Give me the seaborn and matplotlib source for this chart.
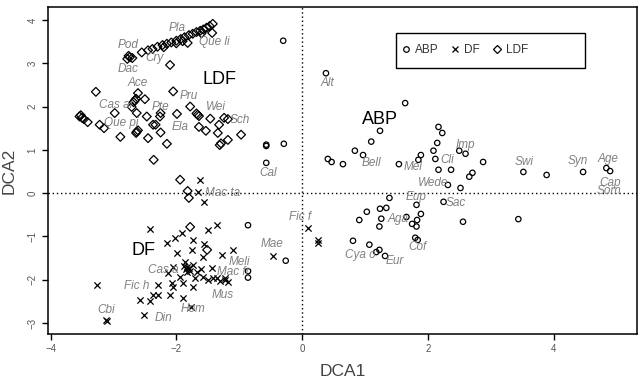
import seaborn as sns
import matplotlib.pyplot as plt
import pandas as pd
from matplotlib.patches import Rectangle
from matplotlib.lines import Line2D

# site scores
abp_x = [0.38, 1.64, 1.24, 1.10, 0.84, 0.97, 0.41, 0.47, 0.65, 1.54, 1.89, 1.85, 2.17, 2.23, 2.15,
         2.09, 2.12, 2.50, 2.60, 2.88, 2.17, 2.37, 2.71, 2.66, 2.32, 2.52, 1.39, 1.82, 2.25, 1.89,
         1.24, 1.34, 1.03, 0.91, 1.26, 1.23, 1.66, 1.75, 1.82, 1.83, 2.56, 0.81, 1.07, 1.23, 1.18,
         1.32, 1.80, 1.84, 3.44, 3.52, 3.89, 4.47, 4.84, 4.90, -0.30, -0.57, -0.29, -0.57, -0.86,
         -0.26, -0.86, -0.86, -0.57]
abp_y = [2.77, 2.08, 1.44, 1.19, 0.98, 0.88, 0.79, 0.72, 0.67, 0.67, 0.88, 0.77, 1.53, 1.39, 1.16,
         0.98, 0.79, 0.98, 0.91, 0.72, 0.54, 0.54, 0.47, 0.38, 0.19, 0.12, -0.11, -0.27, -0.20, -0.48,
         -0.36, -0.34, -0.43, -0.62, -0.59, -0.77, -0.55, -0.71, -0.77, -0.62, -0.66, -1.10, -1.19, -1.31, -1.36,
         -1.45, -1.03, -1.08, -0.60, 0.49, 0.42, 0.49, 0.58, 0.51, 3.52, 1.09, 1.14, 0.70, -0.74,
         -1.56, -1.80, -1.95, 1.12]

df_x = [-1.62, -1.66, -1.56, -2.42, -2.15, -2.02, -1.91, -1.74, -1.75, -1.99, -1.50, -1.35, -1.56, -1.58,
        -1.27, -1.10, -0.46, -1.86, -1.74, -1.83, -1.85, -1.80, -1.78, -1.88, -2.05, -2.13, -1.94, -1.83,
        -1.67, -1.58, -1.42, -1.31, -1.23, -1.43, -2.07, -1.89, -1.74, -2.05, -2.29, -2.29, -2.37, -2.58,
        -2.42, -2.10, -3.26, -2.52, -1.89, -1.77, -3.12, -3.10, 0.10, 0.25, 0.25, -1.18, -1.22, -1.50,
        -1.35, -1.70, -1.60]
df_y = [0.31, 0.03, -0.20, -0.82, -1.15, -1.03, -0.92, -1.08, -1.31, -1.38, -0.85, -0.73, -1.17, -1.47,
        -1.43, -1.31, -1.45, -1.59, -1.66, -1.70, -1.75, -1.72, -1.80, -1.68, -1.70, -1.84, -1.93, -1.82,
        -1.82, -1.93, -1.96, -2.04, -2.00, -1.72, -2.07, -2.07, -2.16, -2.16, -2.12, -2.35, -2.35, -2.46,
        -2.49, -2.35, -2.12, -2.81, -2.42, -2.63, -2.92, -2.95, -0.80, -1.08, -1.15, -2.05, -1.97, -2.00,
        -1.95, -1.95, -1.75]

ldf_x = [-2.78, -2.74, -2.76, -2.70, -2.55, -2.45, -2.38, -2.30, -2.22, -2.20, -2.15, -2.08, -2.00, -2.00,
         -1.93, -1.90, -1.87, -1.80, -1.82, -1.74, -1.68, -1.62, -1.60, -1.57, -1.52, -1.47, -1.42, -1.43,
         -2.10, -3.28, -2.05, -2.61, -2.66, -2.68, -2.64, -2.50, -2.71, -2.63, -3.54, -3.50, -3.47, -3.52,
         -3.41, -3.22, -3.15, -2.98, -2.89, -2.63, -2.61, -2.64, -2.45, -2.47, -2.37, -2.26, -2.25, -2.15,
         -2.36, -1.99, -1.78, -1.66, -1.64, -1.68, -1.46, -1.64, -1.53, -1.32, -1.24, -1.34, -1.18, -1.31,
         -1.29, -0.97, -1.94, -1.82, -1.80, -1.78, -1.51, -2.33, -2.25, -1.18]
ldf_y = [3.10, 3.14, 3.17, 3.12, 3.25, 3.30, 3.33, 3.38, 3.42, 3.37, 3.45, 3.48, 3.52, 3.46,
         3.56, 3.51, 3.60, 3.65, 3.47, 3.68, 3.72, 3.75, 3.69, 3.78, 3.82, 3.86, 3.91, 3.70,
         2.96, 2.34, 2.35, 2.31, 2.14, 2.10, 2.18, 2.17, 1.99, 1.85, 1.77, 1.74, 1.71, 1.80,
         1.64, 1.58, 1.50, 1.85, 1.30, 1.42, 1.45, 1.39, 1.27, 1.77, 1.58, 1.77, 1.40, 1.14,
         0.77, 1.83, 2.00, 1.81, 1.78, 1.84, 1.72, 1.53, 1.44, 1.58, 1.74, 1.39, 1.23, 1.11,
         1.15, 1.35, 0.31, 0.05, -0.11, -0.78, -1.31, 1.58, 1.85, 1.71]

# species labels
sp_names = ['Pla', 'Que li', 'Pod', 'Cry', 'Dac', 'Ace', 'Pru', 'Wei', 'Cas ar', 'Pte', 'Que pi', 'Ela',
            'Sch', 'Cal', 'Mac ta', 'Cas a', 'Meli', 'Mac fr', 'Mus', 'Fic h', 'Hom', 'Cbi', 'Din', 'Mae',
            'Fic f', 'Alt', 'Imp', 'Bell', 'Mel', 'Cli', 'Wede', 'Eup', 'Sac', 'Aga', 'Cof', 'Cya o', 'Eur',
            'Swi', 'Syn', 'Age', 'Cap', 'Sorn']
sp_x = [-1.99, -1.40, -2.77, -2.34, -2.77, -2.61, -1.80, -1.37, -2.95, -2.25, -2.87, -1.94,
        -0.99, -0.54, -1.26, -2.21, -1.00, -1.10, -1.27, -2.63, -1.74, -3.11, -2.21, -0.48,
        -0.03, 0.40, 2.60, 1.11, 1.77, 2.31, 2.09, 1.82, 2.44, 1.53, 1.83, 0.92, 1.48,
        3.54, 4.39, 4.86, 4.90, 4.89]
sp_y = [3.82, 3.49, 3.43, 3.12, 2.87, 2.54, 2.25, 2.00, 2.04, 1.99, 1.62, 1.52,
        1.69, 0.47, 0.00, -1.77, -1.58, -1.81, -2.35, -2.14, -2.67, -2.69, -2.88, -1.17,
        -0.55, 2.55, 1.11, 0.70, 0.61, 0.77, 0.24, -0.09, -0.23, -0.60, -1.24, -1.43, -1.56,
        0.72, 0.74, 0.79, 0.24, 0.05]

groups = ['ABP', 'DF', 'LDF']
group_x = [1.24, -2.52, -1.31]
group_y = [1.69, -1.33, 2.62]

sites = pd.concat([
    pd.DataFrame({'DCA1': abp_x, 'DCA2': abp_y, 'group': 'ABP'}),
    pd.DataFrame({'DCA1': df_x, 'DCA2': df_y, 'group': 'DF'}),
    pd.DataFrame({'DCA1': ldf_x, 'DCA2': ldf_y, 'group': 'LDF'}),
])

sns.set_style('ticks')
plt.rcParams['font.family'] = ['Liberation Sans', 'DejaVu Sans']

fig = plt.figure(figsize=(6.41, 3.86), dpi=100)
ax = fig.add_axes([0.075, 0.135, 0.919, 0.847])

ax.axhline(0, color='black', lw=1, ls=(0, (1, 2)), zorder=1)
ax.axvline(0, color='black', lw=1, ls=(0, (1, 2)), zorder=1)

sns.scatterplot(data=sites[sites.group == 'ABP'], x='DCA1', y='DCA2', marker='o', s=15,
                facecolors='none', edgecolor='black', linewidth=0.9, ax=ax, legend=False, zorder=3)
sns.scatterplot(data=sites[sites.group == 'DF'], x='DCA1', y='DCA2', marker='x', s=20,
                color='black', linewidth=0.9, ax=ax, legend=False, zorder=3)
sns.scatterplot(data=sites[sites.group == 'LDF'], x='DCA1', y='DCA2', marker='D', s=20,
                facecolors='none', edgecolor='black', linewidth=0.9, ax=ax, legend=False, zorder=3)

for name, x, y in zip(sp_names, sp_x, sp_y):
    ax.text(x, y, name, ha='center', va='center', color='#808080', style='italic', fontsize=8.5, zorder=4)

for name, x, y in zip(groups, group_x, group_y):
    ax.text(x, y, name, ha='center', va='center', color='black', fontsize=13, zorder=4)

ax.set_xlim(-4.04, 5.33)
ax.set_ylim(-3.25, 4.30)
ax.set_xticks([-4, -2, 0, 2, 4])
ax.set_yticks([-3, -2, -1, 0, 1, 2, 3, 4])
ax.tick_params(axis='both', length=4, width=1, color='black', labelsize=7, labelcolor='#555555', direction='out')
for lab in ax.get_yticklabels():
    lab.set_rotation(90)
    lab.set_va('center')
for sp in ax.spines.values():
    sp.set_visible(True)
    sp.set_color('black')
    sp.set_linewidth(1.1)

ax.set_xlabel('DCA1', fontsize=12.5, color='#444444', labelpad=7)
ax.set_ylabel('DCA2', fontsize=12.5, color='#444444', labelpad=8)

# legend box
ax.add_patch(Rectangle((0.591, 0.813), 0.321, 0.107, transform=ax.transAxes,
                       fill=False, edgecolor='black', lw=1, zorder=5))
handles = [
    Line2D([], [], marker='o', ls='none', mfc='none', mec='black', ms=4, mew=0.9),
    Line2D([], [], marker='x', ls='none', color='black', ms=4.5, mew=0.9),
    Line2D([], [], marker='D', ls='none', mfc='none', mec='black', ms=4.5, mew=0.9),
]
ax.legend(handles, groups, loc='center left', bbox_to_anchor=(0.598, 0.867), ncol=3, frameon=False,
          handletextpad=0.3, columnspacing=1.0, handlelength=0.9, fontsize=8.5, labelcolor='#333333',
          borderpad=0, borderaxespad=0)

fig.savefig('out.png', dpi=100)
